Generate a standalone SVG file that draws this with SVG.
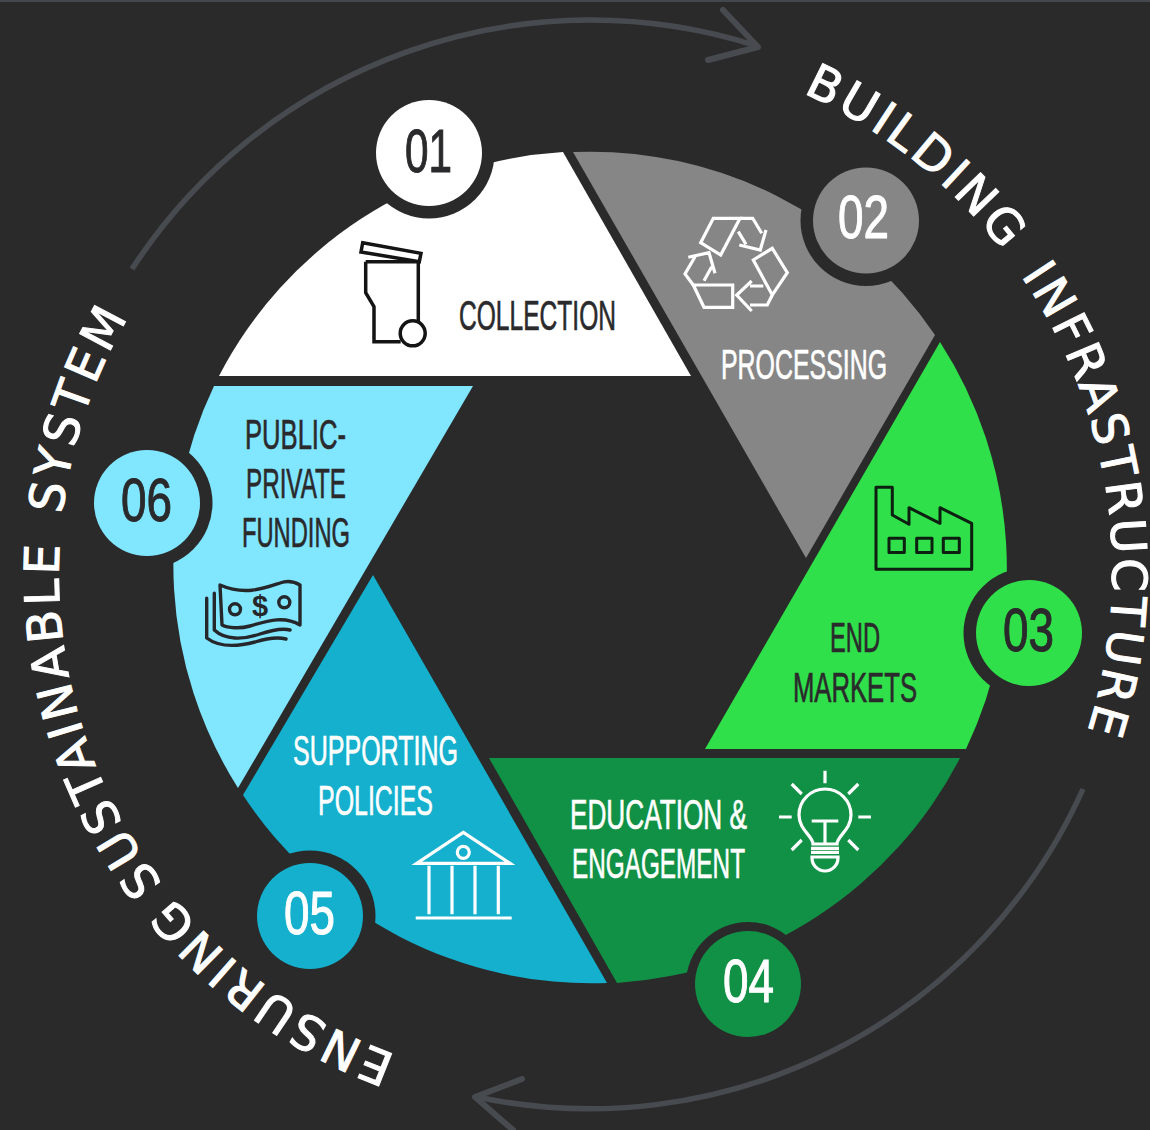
<svg xmlns="http://www.w3.org/2000/svg" width="1150" height="1130" viewBox="0 0 1150 1130">
<style>
.lbl{font-family:"Liberation Sans",Arial,sans-serif;font-size:43px;stroke-width:0.7px}
.num{font-family:"Liberation Sans",Arial,sans-serif;font-size:62px;stroke-width:1.1px}
.d{fill:#2a2a2c;stroke:#2a2a2c}
.w{fill:#fff;stroke:#fff}
.ring{fill:#2a2a2a}
.curve{font-family:"DejaVu Sans",sans-serif;font-size:48px;fill:#fff;stroke:#fff;stroke-width:1px;letter-spacing:3.4px;word-spacing:-5px}
.conn{fill:none;stroke:#474b50;stroke-width:5.5}
.chev{fill:none;stroke:#474b50;stroke-width:6;stroke-linecap:round;stroke-linejoin:round}
.iw{fill:none;stroke:#fff;stroke-width:3.2;stroke-linejoin:miter}
.ik{fill:none;stroke:#141414;stroke-width:3.5}
.if{fill:none;stroke:#0c1f10;stroke-width:3;stroke-linejoin:round}
.im{fill:none;stroke:#26272a;stroke-width:3.4;stroke-linecap:round;stroke-linejoin:round}
</style>
<defs>
<path id="tp1" d="M803,93 A525,525 0 0 1 1088,730 A525,525 0 0 1 1040,840"/>
<path id="tp2" d="M396,1055 A511,511 0 0 1 125,323 A511,511 0 0 1 200,215"/>
</defs>
<rect width="1150" height="1130" fill="#2a2a2a"/>
<rect width="1150" height="2" fill="#44484c"/>

<g id="connectors">
<path class="conn" d="M132,269 A547,547 0 0 1 757,46"/>
<path class="chev" d="M723,10 L758,47 L708,60"/>
<path class="conn" d="M1083,789 A541,541 0 0 1 477,1097"/>
<path class="chev" d="M522,1079 L475,1097 L513,1130"/>
</g>

<g id="node-01">
<path fill="#fff" d="M219,376 A416,416 0 0 1 563,152 L691,376 Z"/>
<circle class="ring" cx="429" cy="153" r="65.5"/>
<circle fill="#fff" cx="429" cy="153" r="53"/>
<text class="num d" x="405" y="172" textLength="47" lengthAdjust="spacingAndGlyphs">01</text>
<g class="ik">
<path d="M362.7,242.7 L421,253.3 L419.3,261.7 L361,252 Z"/>
<path d="M365.7,261.7 V292.7 L374,306.7 V341.7 H400.7 M365.7,261.7 H418.3 V321.7"/>
<circle cx="412.7" cy="333.3" r="12.5"/>
</g>
<text class="lbl d" x="459" y="330" textLength="157" lengthAdjust="spacingAndGlyphs">COLLECTION</text>
</g>

<g id="node-02">
<path fill="#868686" d="M573,152 A416,416 0 0 1 935,335 L806,558 Z"/>
<circle class="ring" cx="866" cy="220.5" r="65.5"/>
<circle fill="#868686" cx="866" cy="220.5" r="53"/>
<text class="num w" x="838" y="238" textLength="51" lengthAdjust="spacingAndGlyphs">02</text>
<g class="iw">
<path d="M713.3,218.3 H740 L720.7,255 L700.7,242.7 Z"/>
<path d="M740,218.3 H752.7 L761.7,233.3 M766,230 L760.3,250 L739.3,245 M738.3,231.7 L746,244.3"/>
<path d="M772.3,248.3 L787.3,272.7 L772.3,295 L753.3,260 Z"/>
<path d="M772.3,295 L767.3,305 H750 M751.7,311 L736.7,295 L751.7,281 M750,286 H763.3"/>
<path d="M693.3,285 H732.7 V307.3 H704 Z"/>
<path d="M693.3,285 L685,274 L695,256.7 M688.3,257.3 L709,252.7 L715,273.3 M704,280.7 L711.7,266.7"/>
</g>
<text class="lbl w" x="721" y="379" textLength="166" lengthAdjust="spacingAndGlyphs">PROCESSING</text>
</g>

<g id="node-03">
<path fill="#30e04a" d="M940,342 A418,418 0 0 1 966,749 H705 Z"/>
<circle class="ring" cx="1029" cy="633" r="65.5"/>
<circle fill="#30e04a" cx="1029" cy="633" r="53"/>
<text class="num d" x="1003" y="651" textLength="51" lengthAdjust="spacingAndGlyphs">03</text>
<g class="if">
<path d="M876,487.3 H892.3 V515 L909,524.3 V507.7 L940,523.3 V507.7 L971.7,523.3 V569.3 H876 Z"/>
<rect x="889" y="538.3" width="15.3" height="14.3"/>
<rect x="916.7" y="538.3" width="15.3" height="14.3"/>
<rect x="943.3" y="538.3" width="16" height="14.3"/>
</g>
<text class="lbl d" x="830" y="652" textLength="50" lengthAdjust="spacingAndGlyphs">END</text>
<text class="lbl d" x="793" y="702" textLength="124" lengthAdjust="spacingAndGlyphs">MARKETS</text>
</g>

<g id="node-04">
<path fill="#119146" d="M960,758 A416,416 0 0 1 617,983 L489,758 Z"/>
<circle class="ring" cx="748" cy="984" r="62"/>
<circle fill="#119146" cx="748" cy="984" r="53"/>
<text class="num w" x="723" y="1002" textLength="51" lengthAdjust="spacingAndGlyphs">04</text>
<g class="iw">
<path d="M825,770.7 V783.3 M791.7,784 L801.7,794 M858.3,784 L848.3,794 M779,817 H791.7 M858.3,817 H871 M791.7,850 L801.7,840 M858.3,850 L848.3,840"/>
<path d="M813,844 C813,836 799,830 799,815 A26,26 0 1 1 851,815 C851,830 837,836 837,844 Z"/>
<path d="M811.7,821 H838.3 M825,821 V844"/>
<path d="M811,848.3 H839 M811,852.3 H839"/>
<path d="M812,857 H838 V858 A13,13 0 0 1 812,858 Z"/>
</g>
<text class="lbl w" x="570" y="829" textLength="177" lengthAdjust="spacingAndGlyphs">EDUCATION &amp;</text>
<text class="lbl w" x="572" y="878" textLength="173" lengthAdjust="spacingAndGlyphs">ENGAGEMENT</text>
</g>

<g id="node-05">
<path fill="#14b0cd" d="M607,983 A416,416 0 0 1 243,795 L373,575 Z"/>
<circle class="ring" cx="310" cy="916" r="65.5"/>
<circle fill="#14b0cd" cx="310" cy="916" r="53"/>
<text class="num w" x="284" y="934" textLength="51" lengthAdjust="spacingAndGlyphs">05</text>
<g class="iw">
<path d="M463.3,832.3 L510,863.3 H416.7 Z"/>
<circle cx="463.3" cy="852.3" r="6"/>
<path d="M429,865.7 V914.3 M452,865.7 V914.3 M475,865.7 V914.3 M498.3,865.7 V914.3 M415.7,918 H511.7"/>
</g>
<text class="lbl w" x="293" y="765" textLength="165" lengthAdjust="spacingAndGlyphs">SUPPORTING</text>
<text class="lbl w" x="318" y="815" textLength="115" lengthAdjust="spacingAndGlyphs">POLICIES</text>
</g>

<g id="node-06">
<path fill="#81e6ff" d="M238,788 A416,416 0 0 1 214,386 H473 Z"/>
<circle class="ring" cx="147" cy="503" r="65.5"/>
<circle fill="#81e6ff" cx="147" cy="503" r="53"/>
<text class="num d" x="121" y="521" textLength="51" lengthAdjust="spacingAndGlyphs">06</text>
<text class="lbl d" x="245" y="449" textLength="101" lengthAdjust="spacingAndGlyphs">PUBLIC-</text>
<text class="lbl d" x="246" y="498" textLength="100" lengthAdjust="spacingAndGlyphs">PRIVATE</text>
<text class="lbl d" x="242" y="547" textLength="108" lengthAdjust="spacingAndGlyphs">FUNDING</text>
<g class="im">
<path d="M220,585 C245,596 265,588 280,583 C288,580 295,582 300,585 V625 C285,616 270,620 250,626 C240,629 228,628 222,625 Z"/>
<path d="M214.3,593.3 V630 C225,640 243,640 260,634 C272,630 283,628 290,630"/>
<path d="M206.7,598.3 V638 C220,648 240,646 255,642 C268,638 278,637 286,639"/>
<circle cx="235" cy="609.3" r="5.5"/>
<circle cx="284.3" cy="602.3" r="5.5"/>
</g>
<text x="260" y="616" text-anchor="middle" font-family="Liberation Sans,Arial,sans-serif" font-weight="bold" font-size="29" fill="#26272a">$</text>
</g>

<g id="ring-labels">
<text class="curve"><textPath href="#tp1" xml:space="preserve">BUILDING  INFRASTRUCTURE</textPath></text>
<text class="curve"><textPath href="#tp2" xml:space="preserve">ENSURING SUSTAINABLE  SYSTEM</textPath></text>
</g>
</svg>
